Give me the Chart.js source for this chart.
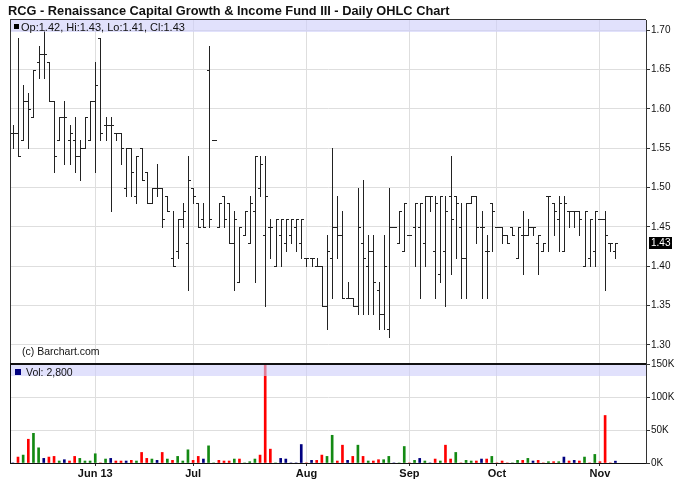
<!DOCTYPE html>
<html>
<head>
<meta charset="utf-8">
<script src="https://cdn.jsdelivr.net/npm/chart.js@4.4.1/dist/chart.umd.min.js"></script>
<style>
  body { margin: 0; background: #fff; }
  #wrap { position: relative; width: 688px; height: 503px; overflow: hidden; background: #fff; }
  #title { position: absolute; left: 8px; top: 3px; font: bold 12.8px "Liberation Sans", Arial, sans-serif; line-height: 15px; color: #111; white-space: nowrap; }
  canvas { position: absolute; left: 0; }
  #price { top: 0; }
  #volume { top: 350px; }
</style>
</head>
<body>
<div id="wrap">
  <canvas id="price" width="688" height="364"></canvas>
  <canvas id="volume" width="688" height="153"></canvas>
  <div id="title">RCG - Renaissance Capital Growth &amp; Income Fund III - Daily OHLC Chart</div>
</div>
<script>
// daily bars, oldest first (one slot per trading session shown)
const opens = [
  1.57, 1.57, 1.56, 1.61, 1.59, 1.66, 1.67, 1.66, 1.61, 1.56, 1.59, 1.56, 1.56, 1.54, 1.55, 1.56,
  1.61, 1.69, 1.58, 1.58, 1.57, 1.57, 1.50, 1.55, 1.49, 1.55, 1.52, 1.48, 1.50, 1.50, 1.49, 1.41,
  1.42, 1.46, 1.43, 1.50, 1.48, 1.46, 1.65, 1.56, 1.45, 1.49, 1.48, 1.43, 1.38, 1.44, 1.43, 1.47,
  1.50, 1.44, 1.45, 1.40, 1.44, 1.43, 1.44, 1.45, 1.43, 1.41, 1.41, 1.40, 1.40, 1.35, 1.41, 1.45,
  1.44, 1.36, 1.36, 1.35, 1.43, 1.40, 1.42, 1.37, 1.34, 1.32, 1.45, 1.43, 1.42, 1.44, 1.45, 1.45,
  1.43, 1.49, 1.42, 1.39, 1.42, 1.49, 1.49, 1.45, 1.41, 1.48, 1.49, 1.45, 1.42, 1.48, 1.45, 1.45,
  1.44, 1.45, 1.41, 1.44, 1.44, 1.45, 1.43, 1.42, 1.49, 1.48, 1.46, 1.42, 1.47, 1.47, 1.47, 1.40,
  1.41, 1.42, 1.46, 1.46, 1.43, 1.42
]
const highs = [
  1.58, 1.69, 1.63, 1.62, 1.65, 1.68, 1.70, 1.66, 1.61, 1.59, 1.61, 1.58, 1.59, 1.56, 1.59, 1.61,
  1.66, 1.69, 1.59, 1.59, 1.57, 1.57, 1.55, 1.55, 1.54, 1.55, 1.52, 1.50, 1.53, 1.50, 1.49, 1.47,
  1.46, 1.48, 1.54, 1.50, 1.48, 1.48, 1.68, 1.56, 1.48, 1.49, 1.48, 1.47, 1.45, 1.47, 1.49, 1.54,
  1.54, 1.54, 1.46, 1.46, 1.46, 1.46, 1.46, 1.46, 1.46, 1.41, 1.41, 1.41, 1.40, 1.44, 1.55, 1.49,
  1.47, 1.38, 1.36, 1.50, 1.51, 1.44, 1.44, 1.38, 1.44, 1.50, 1.45, 1.47, 1.48, 1.44, 1.48, 1.48,
  1.49, 1.49, 1.49, 1.49, 1.49, 1.54, 1.49, 1.48, 1.48, 1.49, 1.49, 1.47, 1.44, 1.48, 1.45, 1.45,
  1.44, 1.45, 1.45, 1.47, 1.46, 1.45, 1.44, 1.43, 1.49, 1.48, 1.49, 1.49, 1.47, 1.47, 1.47, 1.47,
  1.46, 1.47, 1.46, 1.47, 1.43, 1.43
]
const lows = [
  1.55, 1.54, 1.56, 1.55, 1.59, 1.64, 1.64, 1.61, 1.52, 1.56, 1.53, 1.53, 1.52, 1.51, 1.55, 1.56,
  1.52, 1.56, 1.56, 1.47, 1.56, 1.53, 1.49, 1.49, 1.48, 1.51, 1.48, 1.48, 1.49, 1.45, 1.47, 1.40,
  1.41, 1.45, 1.37, 1.48, 1.45, 1.45, 1.45, 1.56, 1.45, 1.45, 1.43, 1.37, 1.38, 1.44, 1.43, 1.38,
  1.49, 1.35, 1.41, 1.40, 1.40, 1.42, 1.43, 1.42, 1.41, 1.40, 1.40, 1.40, 1.35, 1.32, 1.36, 1.41,
  1.36, 1.36, 1.35, 1.34, 1.34, 1.34, 1.34, 1.32, 1.32, 1.31, 1.45, 1.43, 1.42, 1.44, 1.40, 1.36,
  1.40, 1.47, 1.36, 1.38, 1.35, 1.39, 1.41, 1.36, 1.36, 1.48, 1.43, 1.36, 1.36, 1.42, 1.45, 1.43,
  1.43, 1.44, 1.41, 1.39, 1.44, 1.44, 1.39, 1.42, 1.42, 1.44, 1.42, 1.42, 1.45, 1.45, 1.44, 1.40,
  1.40, 1.40, 1.46, 1.37, 1.42, 1.41
]
const closes = [
  1.57, 1.54, 1.61, 1.60, 1.65, 1.67, 1.67, 1.61, 1.54, 1.59, 1.59, 1.57, 1.54, 1.55, 1.59, 1.61,
  1.63, 1.57, 1.58, 1.58, 1.57, 1.55, 1.55, 1.52, 1.54, 1.51, 1.48, 1.50, 1.50, 1.46, 1.47, 1.40,
  1.46, 1.47, 1.51, 1.49, 1.45, 1.45, 1.46, 1.56, 1.48, 1.46, 1.43, 1.46, 1.45, 1.47, 1.48, 1.54,
  1.53, 1.49, 1.45, 1.46, 1.46, 1.46, 1.46, 1.46, 1.46, 1.41, 1.41, 1.40, 1.35, 1.42, 1.45, 1.44,
  1.36, 1.36, 1.35, 1.45, 1.41, 1.42, 1.38, 1.34, 1.40, 1.45, 1.45, 1.47, 1.48, 1.44, 1.48, 1.48,
  1.49, 1.49, 1.48, 1.49, 1.47, 1.46, 1.48, 1.41, 1.48, 1.49, 1.45, 1.45, 1.42, 1.47, 1.45, 1.44,
  1.43, 1.44, 1.45, 1.44, 1.45, 1.45, 1.44, 1.43, 1.49, 1.47, 1.48, 1.48, 1.47, 1.47, 1.46, 1.47,
  1.46, 1.47, 1.46, 1.44, 1.43, 1.43
]
const volumes = [
  0, 9000, 12000, 36000, 45000, 23000, 7000, 9000, 10000, 3000, 5000, 3000, 10000, 7000, 3000, 3000,
  14000, 0, 6000, 7000, 3000, 3000, 3000, 4000, 3000, 16000, 7000, 6000, 4000, 16000, 6000, 4000,
  10000, 3000, 20000, 4000, 10000, 6000, 26000, 0, 4000, 3000, 3000, 6000, 6000, 0, 2000, 6000,
  12000, 160000, 21000, 0, 7000, 6000, 0, 0, 28000, 0, 4000, 4000, 12000, 10000, 42000, 3000,
  27000, 4000, 10000, 27000, 10000, 3000, 3000, 5000, 5000, 10000, 0, 0, 25000, 0, 4000, 7000,
  3000, 0, 6000, 3000, 27000, 6000, 16000, 0, 4000, 3000, 3000, 6000, 6000, 10000, 0, 3000,
  0, 0, 4000, 4000, 7000, 3000, 4000, 0, 2000, 2000, 2000, 9000, 3000, 4000, 3000, 9000,
  0, 13000, 2000, 72000, 0, 2800
]

// axes
const priceTicks = [1.30, 1.35, 1.40, 1.45, 1.50, 1.55, 1.60, 1.65, 1.70]
const volumeTicks = [0, 50000, 100000, 150000]
const monthStarts = [16, 35, 57, 77, 94, 114]
const monthLabels = ["Jun 13", "Jul", "Aug", "Sep", "Oct", "Nov"]

const FONT = '"Liberation Sans", Arial, sans-serif'
const UP = "#138a13", DOWN = "#ff0000", FLAT = "#000080"
const GRID = "#dedede"
const xMin = -0.36, xMax = 122.94

const slots = closes.map((c, i) => i)
const last = closes.length - 1
const volColors = closes.map((c, i) => {
  if (i === 0 || c === closes[i - 1]) return FLAT
  return c > closes[i - 1] ? UP : DOWN
})

function xScale(showLabels) {
  return {
    type: "linear",
    min: xMin,
    max: xMax,
    offset: false,
    afterBuildTicks: (s) => { s.ticks = monthStarts.map((v) => ({value: v})) },
    afterFit: (s) => {
      s.paddingLeft = 0
      s.paddingRight = 0
      s.height = showLabels ? 40 : 0
    },
    grid: {color: GRID, offset: false, drawTicks: showLabels, tickLength: 3, tickColor: "#333"},
    border: {display: false},
    ticks: {
      display: showLabels,
      autoSkip: false,
      maxRotation: 0,
      padding: 1,
      color: "#111",
      font: {family: FONT, size: 11, weight: "bold"},
      callback: (v) => monthLabels[monthStarts.indexOf(v)]
    }
  }
}

function rightAxis(extra) {
  return Object.assign({
    position: "right",
    afterFit: (s) => {
      s.width = 42
      s.paddingTop = 0
      s.paddingBottom = 0
    },
    grid: {color: GRID, tickLength: 4, tickColor: "#333"},
    border: {color: "#333"}
  }, extra)
}

const pricePanel = {
  id: "pricePanel",
  afterDraw(chart) {
    const {ctx, chartArea: a, scales: {x, y}} = chart
    ctx.save()

    // ohlc bars
    ctx.fillStyle = "#222"
    slots.forEach((i) => {
      const px = Math.round(x.getPixelForValue(i))
      const yh = Math.round(y.getPixelForValue(highs[i]))
      const yl = Math.round(y.getPixelForValue(lows[i]))
      ctx.fillRect(px, yh, 1, yl - yh + 1)
      ctx.fillRect(px - 2, Math.round(y.getPixelForValue(opens[i])), 2, 1)
      ctx.fillRect(px + 1, Math.round(y.getPixelForValue(closes[i])), 2, 1)
    })

    // legend band
    ctx.fillStyle = "rgba(205, 205, 250, 0.6)"
    ctx.fillRect(a.left, a.top, a.right - a.left, 12)
    ctx.fillStyle = "#000"
    ctx.fillRect(a.left + 3, a.top + 4, 5, 5)
    ctx.font = "11px " + FONT
    ctx.textBaseline = "alphabetic"
    ctx.fillStyle = "#111"
    const f = (v) => v.toFixed(2)
    ctx.fillText(`Op:${f(opens[last])}, Hi:${f(highs[last])}, Lo:${f(lows[last])}, Cl:${f(closes[last])}`, a.left + 10, a.top + 10.5)

    ctx.font = "10.5px " + FONT
    ctx.fillText("(c) Barchart.com", a.left + 11, a.bottom - 8.5)

    // frame
    ctx.fillStyle = "#333"
    ctx.fillRect(a.left - 1, a.top - 1, a.right - a.left + 1, 1)
    ctx.fillRect(a.left - 1, a.top - 1, 1, a.bottom - a.top + 1)
    ctx.fillStyle = "#111"
    ctx.fillRect(a.left - 1, a.bottom, a.right - a.left + 1, 1)

    // last price marker
    const yc = y.getPixelForValue(closes[last])
    ctx.fillStyle = "#000"
    ctx.fillRect(a.right + 3, Math.round(yc) - 6, 23, 12)
    ctx.fillStyle = "#fff"
    ctx.font = "10px " + FONT
    ctx.textBaseline = "middle"
    ctx.fillText(f(closes[last]), a.right + 5, yc + 0.5)
    ctx.restore()
  }
}

const volumePanel = {
  id: "volumePanel",
  afterDraw(chart) {
    const {ctx, chartArea: a} = chart
    ctx.save()
    ctx.fillStyle = "rgba(205, 205, 250, 0.6)"
    ctx.fillRect(a.left, a.top + 1, a.right - a.left, 11)
    ctx.fillStyle = FLAT
    ctx.fillRect(a.left + 4, a.top + 5, 6, 6)
    ctx.fillStyle = "#111"
    ctx.font = "10.5px " + FONT
    ctx.fillText("Vol: " + volumes[last].toLocaleString("en-US"), a.left + 15, a.top + 11.5)

    ctx.fillStyle = "#111"
    ctx.fillRect(a.left - 1, a.top, a.right - a.left + 1, 1)
    ctx.fillRect(a.left - 1, a.top, 1, a.bottom - a.top)
    ctx.fillRect(a.left - 1, a.bottom, a.right - a.left + 1, 1)
    ctx.restore()
  }
}

new Chart(document.getElementById("price"), {
  type: "scatter",
  data: {datasets: []},
  options: {
    responsive: false,
    animation: false,
    layout: {padding: {left: 11, top: 20, right: 0, bottom: 1}},
    plugins: {legend: {display: false}, tooltip: {enabled: false}},
    scales: {
      x: xScale(false),
      y: rightAxis({
        min: 1.2771,
        max: 1.7131,
        afterBuildTicks: (s) => { s.ticks = priceTicks.map((v) => ({value: v})) },
        ticks: {padding: 1, color: "#111", font: {family: FONT, size: 10}, callback: (v) => v.toFixed(2)}
      })
    }
  },
  plugins: [pricePanel]
})

new Chart(document.getElementById("volume"), {
  type: "bar",
  data: {
    datasets: [{
      label: "Volume",
      data: volumes.map((v, i) => ({x: i, y: v})),
      backgroundColor: volColors,
      barThickness: 2,
      borderWidth: 0
    }]
  },
  options: {
    responsive: false,
    animation: false,
    layout: {padding: {left: 11, top: 14, right: 0, bottom: 0}},
    plugins: {legend: {display: false}, tooltip: {enabled: false}},
    scales: {
      x: xScale(true),
      y: rightAxis({
        min: 0,
        max: 150000,
        afterBuildTicks: (s) => { s.ticks = volumeTicks.map((v) => ({value: v})) },
        ticks: {padding: 1, color: "#111", font: {family: FONT, size: 10}, callback: (v) => v / 1000 + "K"}
      })
    }
  },
  plugins: [volumePanel]
})
</script>
</body>
</html>
